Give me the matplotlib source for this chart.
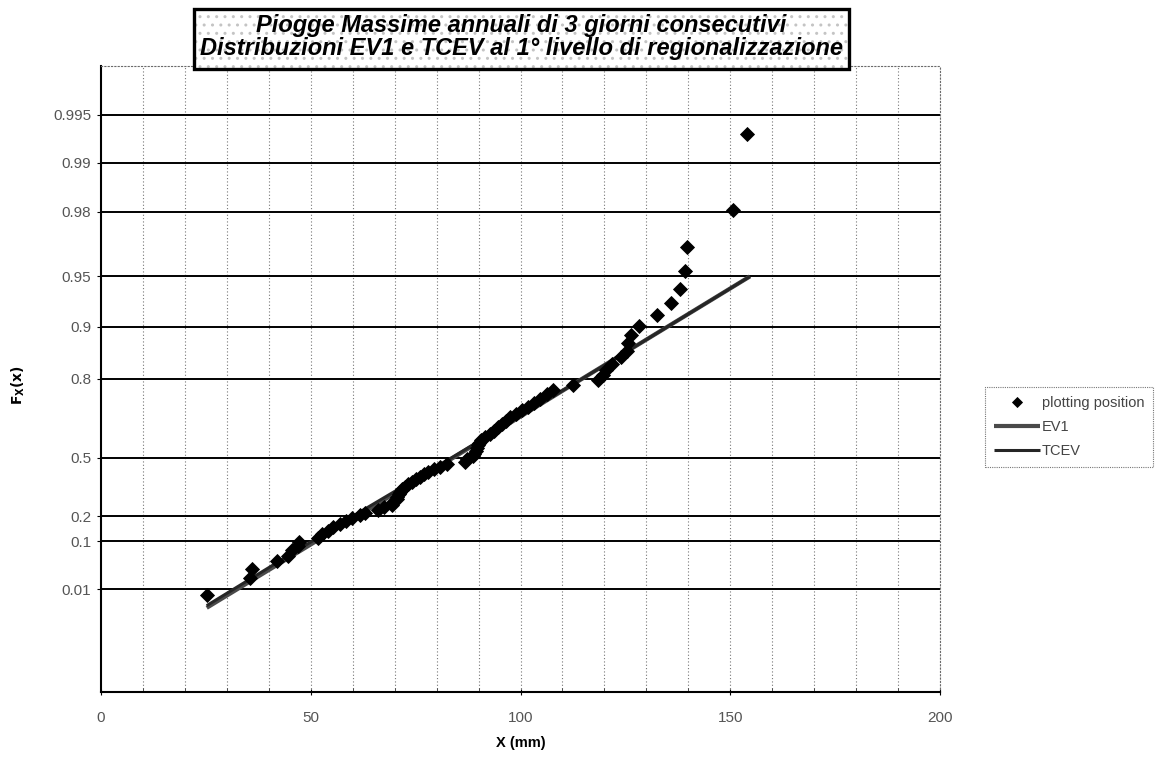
import numpy as np
import matplotlib
matplotlib.use("Agg")
import matplotlib.pyplot as plt
from matplotlib.patches import Rectangle

# ---------------- data ----------------
# plotting positions: rainfall (mm) and non-exceedance probability
pp_x = [25.2, 35.4, 35.9, 42.0, 44.6, 45.5, 47.0, 47.1, 51.7, 52.7,
        54.1, 55.4, 57.0, 58.4, 59.8, 61.7, 63.0, 66.1, 67.5, 69.4,
        69.7, 70.5, 70.6, 71.0, 71.3, 71.8, 72.5, 73.2, 74.1, 75.1,
        76.1, 77.0, 78.0, 79.4, 80.8, 82.4, 86.8, 87.3, 88.7, 89.0,
        89.3, 89.6, 89.9, 90.2, 90.5, 91.5, 92.7, 93.7, 94.6, 95.6,
        96.5, 97.5, 98.9, 100.4, 101.9, 103.1, 104.6, 106.2, 107.8, 112.6,
        118.5, 119.7, 120.5, 121.7, 123.9, 125.5, 125.7, 126.3, 128.2, 132.5,
        135.8, 138.0, 139.2, 139.6, 150.6, 153.9]
pp_F = [0.0066, 0.0197, 0.0329, 0.0461, 0.0592, 0.0724, 0.0855, 0.0987, 0.1118, 0.1250,
        0.1382, 0.1513, 0.1645, 0.1776, 0.1908, 0.2039, 0.2171, 0.2303, 0.2434, 0.2566,
        0.2697, 0.2829, 0.2961, 0.3092, 0.3224, 0.3355, 0.3487, 0.3618, 0.3750, 0.3882,
        0.4013, 0.4145, 0.4276, 0.4408, 0.4539, 0.4671, 0.4803, 0.4934, 0.5066, 0.5197,
        0.5329, 0.5461, 0.5592, 0.5724, 0.5855, 0.5987, 0.6118, 0.6250, 0.6382, 0.6513,
        0.6645, 0.6776, 0.6908, 0.7039, 0.7171, 0.7303, 0.7434, 0.7566, 0.7697, 0.7829,
        0.7961, 0.8092, 0.8224, 0.8355, 0.8487, 0.8618, 0.8750, 0.8882, 0.9013, 0.9145,
        0.9276, 0.9408, 0.9539, 0.9671, 0.9803, 0.9934]

ev1_x = [25.2, 84.0, 114.7, 154.7]
ev1_F = [0.0025, 0.50, 0.80, 0.950]

tcev_x = [25.2, 60.0, 84.0, 114.7, 154.7]
tcev_F = [0.0030, 0.200, 0.505, 0.80, 0.950]

y_ticks = [0.01, 0.1, 0.2, 0.5, 0.8, 0.9, 0.95, 0.98, 0.99, 0.995]
y_tick_labels = ["0.01", "0.1", "0.2", "0.5", "0.8", "0.9", "0.95", "0.98", "0.99", "0.995"]
x_ticks = [0, 50, 100, 150, 200]

title_lines = "Piogge Massime annuali di 3 giorni consecutivi\nDistribuzioni EV1 e TCEV al 1° livello di regionalizzazione"

# ---------------- figure ----------------
W, H = 1162, 758
fig = plt.figure(figsize=(W / 100, H / 100), dpi=100)
fig.patch.set_facecolor("white")

L, R, T, B = 101, 940, 65.5, 692
ax = fig.add_axes([L / W, 1 - B / H, (R - L) / W, (B - T) / H])

def fwd(F):
    F = np.clip(np.asarray(F, dtype=float), 1e-15, 1 - 1e-15)
    return -np.log(-np.log(F))

def inv(y):
    return np.exp(-np.exp(-np.asarray(y, dtype=float)))

ax.set_yscale("function", functions=(fwd, inv))
ax.set_ylim(inv(-3.0), inv(6.0))
ax.set_xlim(0, 200)

# grid
for xv in range(10, 201, 10):
    ax.axvline(xv, color="#777777", lw=0.8, ls=(0, (1, 2)), zorder=1)
for fv in y_ticks:
    ax.axhline(fv, color="black", lw=1.4, zorder=1)

tick_font = ["Liberation Sans Narrow", "Liberation Sans", "DejaVu Sans"]

ax.set_yticks(y_ticks)
ax.set_yticklabels(y_tick_labels)
ax.yaxis.set_minor_locator(matplotlib.ticker.NullLocator())
ax.set_xticks(x_ticks)
ax.set_xticks(list(range(0, 201, 10)), minor=True)
ax.tick_params(axis="y", which="major", length=3, direction="out", pad=4,
               labelsize=11, labelcolor="#555555", color="black")
ax.tick_params(axis="x", which="major", length=5, direction="inout", pad=11,
               labelsize=11, labelcolor="#555555", color="black")
ax.tick_params(axis="x", which="minor", length=3, direction="in", color="#333333")
for lab in ax.get_xticklabels() + ax.get_yticklabels():
    lab.set_family(tick_font)

for s in ["left", "bottom"]:
    ax.spines[s].set_color("black")
    ax.spines[s].set_linewidth(1.5)
for s in ["top", "right"]:
    ax.spines[s].set_color("#6a6a6a")
    ax.spines[s].set_linewidth(0.8)
    ax.spines[s].set_linestyle((0, (1, 2)))

# data
ax.plot(ev1_x, ev1_F, color="#4a4a4a", lw=3.0, zorder=3, label="EV1",
        solid_capstyle="butt")
ax.plot(tcev_x, tcev_F, color="#262626", lw=2.2, zorder=3, label="TCEV",
        solid_capstyle="butt")
ax.plot(pp_x, pp_F, ls="none", marker="D", markersize=6.8, color="black",
        markeredgewidth=0.6, zorder=4, label="plotting position")

# labels
ax.set_xlabel("X (mm)", fontsize=10.5, fontweight="bold", labelpad=8,
              family=["Liberation Sans", "DejaVu Sans"])
fig.text(18 / W, 1 - 385 / H, r"$\mathbf{F_X(x)}$", rotation=90, ha="center",
         va="center", fontsize=10)

# legend
handles, labels = ax.get_legend_handles_labels()
order = [2, 0, 1]
leg = ax.legend([handles[i] for i in order], [labels[i] for i in order],
                loc="upper left", bbox_to_anchor=(985 / W, 1 - 387 / H),
                bbox_transform=fig.transFigure, frameon=True,
                fancybox=False, handlelength=3.2, handletextpad=0.1,
                borderpad=0.6, labelspacing=0.7, borderaxespad=0,
                markerscale=0.8,
                prop={"family": tick_font, "size": 10.5})
leg.get_frame().set_edgecolor("#555555")
leg.get_frame().set_linewidth(0.8)
leg.get_frame().set_linestyle((0, (1, 1)))
for t in leg.get_texts():
    t.set_color("#444444")

# title box
bx0, bx1, by0, by1 = 194, 849, 9, 69
fig.patches.append(Rectangle((bx0 / W, 1 - by1 / H), (bx1 - bx0) / W, (by1 - by0) / H,
                             transform=fig.transFigure, facecolor="white",
                             edgecolor="#c4c4c4", hatch="..", lw=0, zorder=5))
fig.patches.append(Rectangle((bx0 / W, 1 - by1 / H), (bx1 - bx0) / W, (by1 - by0) / H,
                             transform=fig.transFigure, fill=False,
                             edgecolor="black", lw=2.4, zorder=6))
fig.text((bx0 + bx1) / 2 / W, 1 - 37 / H, title_lines, ha="center",
         va="center", fontsize=17, fontweight="bold", fontstyle="italic",
         linespacing=0.98, family=["Liberation Sans", "DejaVu Sans"], zorder=7)

fig.savefig("out.png", dpi=100)
